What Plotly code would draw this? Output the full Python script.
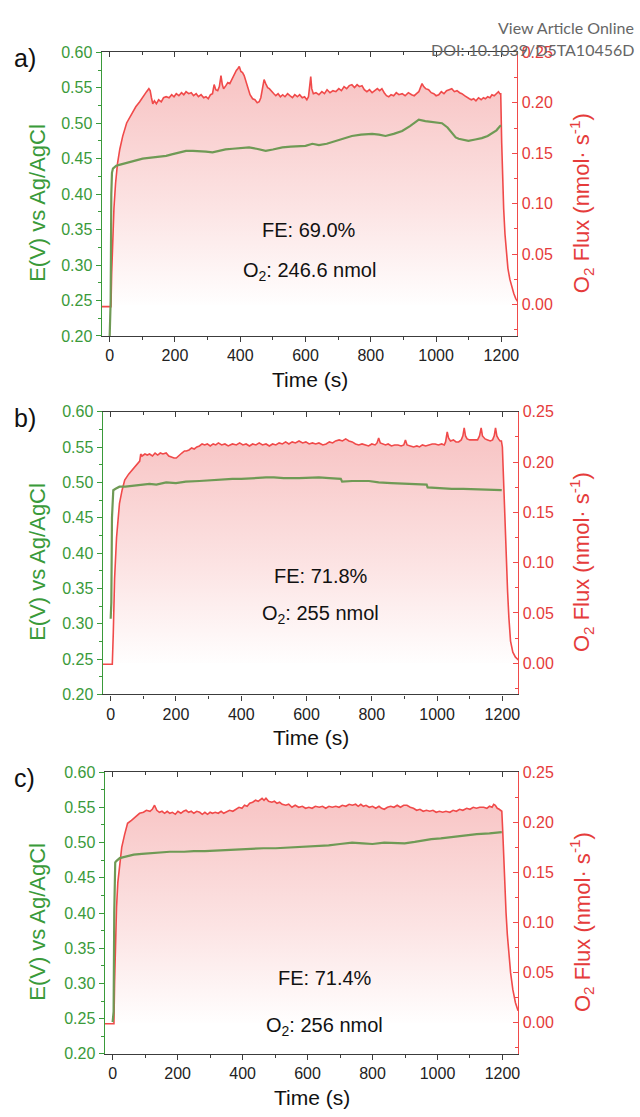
import plotly.graph_objects as go

W, H = 640, 1117

# ---------------- data ----------------
# O2 flux (nmol s^-1) vs time (s)
flux_a = [(-25, -0.002), (0, -0.002), (4, -0.002), (6, 0.03), (9, 0.07), (13, 0.095), (18, 0.12), (24, 0.14),
          (31, 0.154), (40, 0.167), (52, 0.18), (62, 0.186), (70, 0.19), (80, 0.196), (92, 0.201), (103, 0.207),
          (113, 0.211), (120, 0.214), (124, 0.212), (128, 0.205), (132, 0.199), (137, 0.202), (143, 0.199),
          (150, 0.203), (158, 0.201), (165, 0.205), (173, 0.206), (182, 0.205), (190, 0.208), (197, 0.206),
          (204, 0.209), (212, 0.207), (220, 0.21), (227, 0.208), (234, 0.211), (242, 0.209), (250, 0.21),
          (257, 0.207), (265, 0.209), (272, 0.206), (280, 0.208), (288, 0.205), (295, 0.206), (302, 0.204),
          (309, 0.208), (315, 0.209), (320, 0.218), (325, 0.213), (331, 0.212), (336, 0.216), (341, 0.227),
          (345, 0.218), (349, 0.214), (356, 0.217), (362, 0.22), (368, 0.219), (375, 0.224), (382, 0.228),
          (388, 0.232), (393, 0.234), (397, 0.236), (402, 0.231), (407, 0.23), (412, 0.227), (417, 0.221),
          (422, 0.215), (430, 0.208), (438, 0.204), (445, 0.203), (452, 0.2), (458, 0.201), (463, 0.205),
          (468, 0.216), (473, 0.223), (478, 0.219), (484, 0.215), (489, 0.214), (496, 0.211), (503, 0.209),
          (509, 0.207), (516, 0.209), (523, 0.206), (530, 0.208), (537, 0.206), (545, 0.209), (552, 0.207),
          (560, 0.205), (567, 0.208), (575, 0.206), (582, 0.208), (590, 0.205), (597, 0.206), (604, 0.203),
          (609, 0.206), (613, 0.218), (616, 0.226), (619, 0.214), (624, 0.209), (632, 0.21), (641, 0.208),
          (650, 0.211), (658, 0.209), (666, 0.213), (675, 0.21), (684, 0.212), (693, 0.211), (702, 0.214),
          (710, 0.212), (718, 0.216), (726, 0.214), (734, 0.217), (742, 0.218), (750, 0.215), (758, 0.218),
          (765, 0.216), (773, 0.217), (780, 0.213), (788, 0.211), (796, 0.213), (804, 0.21), (812, 0.212),
          (820, 0.214), (827, 0.212), (834, 0.214), (841, 0.21), (848, 0.207), (855, 0.206), (862, 0.208),
          (870, 0.207), (878, 0.21), (886, 0.208), (896, 0.209), (905, 0.207), (915, 0.21), (925, 0.208),
          (933, 0.207), (940, 0.209), (947, 0.211), (952, 0.215), (957, 0.219), (962, 0.216), (968, 0.214),
          (977, 0.213), (985, 0.21), (993, 0.209), (1000, 0.207), (1008, 0.208), (1016, 0.211), (1024, 0.209),
          (1032, 0.212), (1040, 0.213), (1048, 0.214), (1056, 0.211), (1064, 0.212), (1072, 0.21), (1079, 0.209),
          (1087, 0.207), (1095, 0.205), (1102, 0.204), (1108, 0.203), (1115, 0.204), (1122, 0.202), (1130, 0.205),
          (1138, 0.203), (1145, 0.205), (1151, 0.204), (1158, 0.206), (1165, 0.205), (1171, 0.208), (1178, 0.207),
          (1185, 0.209), (1191, 0.211), (1195, 0.209), (1198, 0.209), (1201, 0.16), (1204, 0.12), (1207, 0.095),
          (1211, 0.07), (1215, 0.05), (1220, 0.036), (1226, 0.025), (1232, 0.017), (1238, 0.011), (1244, 0.006),
          (1250, 0.003)]

flux_b = [(-25, -0.001), (0, -0.001), (5, -0.001), (8, 0.03), (12, 0.084), (18, 0.125), (22, 0.145), (27, 0.159),
          (35, 0.172), (43, 0.182), (55, 0.188), (68, 0.193), (80, 0.197), (89, 0.201), (92, 0.208), (96, 0.206),
          (105, 0.208), (112, 0.207), (119, 0.208), (128, 0.206), (136, 0.209), (144, 0.207), (152, 0.209),
          (160, 0.208), (170, 0.209), (178, 0.206), (186, 0.205), (194, 0.204), (201, 0.204), (210, 0.207),
          (218, 0.209), (226, 0.211), (232, 0.211), (240, 0.212), (248, 0.214), (256, 0.213), (264, 0.215),
          (272, 0.216), (280, 0.218), (288, 0.217), (296, 0.218), (305, 0.216), (314, 0.218), (322, 0.217),
          (330, 0.219), (340, 0.217), (350, 0.218), (360, 0.216), (373, 0.218), (385, 0.217), (395, 0.219),
          (405, 0.217), (415, 0.218), (425, 0.216), (435, 0.218), (445, 0.217), (455, 0.219), (465, 0.217),
          (476, 0.218), (486, 0.216), (496, 0.218), (506, 0.217), (516, 0.219), (526, 0.218), (536, 0.22),
          (546, 0.218), (556, 0.22), (566, 0.219), (577, 0.221), (588, 0.219), (598, 0.22), (608, 0.218),
          (618, 0.219), (628, 0.218), (638, 0.219), (650, 0.217), (660, 0.218), (670, 0.22), (680, 0.219),
          (689, 0.221), (700, 0.222), (710, 0.221), (720, 0.223), (730, 0.221), (740, 0.22), (750, 0.218),
          (760, 0.217), (770, 0.218), (780, 0.217), (790, 0.216), (800, 0.218), (810, 0.217), (816, 0.219),
          (821, 0.224), (826, 0.219), (833, 0.218), (842, 0.217), (850, 0.218), (860, 0.216), (870, 0.217),
          (880, 0.217), (890, 0.216), (898, 0.217), (903, 0.222), (908, 0.217), (918, 0.216), (928, 0.215),
          (938, 0.216), (946, 0.215), (955, 0.217), (965, 0.216), (975, 0.217), (985, 0.218), (994, 0.218),
          (1004, 0.217), (1014, 0.218), (1022, 0.217), (1026, 0.22), (1031, 0.23), (1035, 0.224), (1041, 0.221),
          (1050, 0.222), (1058, 0.22), (1066, 0.22), (1074, 0.222), (1079, 0.226), (1083, 0.234), (1087, 0.226),
          (1092, 0.223), (1100, 0.222), (1110, 0.222), (1117, 0.222), (1124, 0.222), (1130, 0.226), (1135, 0.234),
          (1139, 0.226), (1147, 0.223), (1155, 0.222), (1163, 0.221), (1170, 0.222), (1175, 0.226), (1179, 0.234),
          (1183, 0.226), (1188, 0.223), (1193, 0.221), (1197, 0.221), (1200, 0.215), (1205, 0.17), (1209, 0.13),
          (1212, 0.104), (1216, 0.071), (1220, 0.045), (1225, 0.022), (1232, 0.011), (1240, 0.006), (1250, 0.003)]

flux_c = [(-25, -0.001), (0, -0.001), (4, -0.001), (6, 0.04), (8, 0.08), (12, 0.115), (16, 0.14), (21, 0.158),
          (28, 0.175), (37, 0.188), (46, 0.199), (58, 0.202), (70, 0.205), (83, 0.209), (95, 0.21), (104, 0.212),
          (115, 0.211), (122, 0.213), (129, 0.217), (136, 0.212), (144, 0.21), (152, 0.211), (160, 0.209),
          (168, 0.211), (176, 0.209), (184, 0.21), (193, 0.208), (201, 0.211), (210, 0.209), (218, 0.211),
          (226, 0.212), (234, 0.21), (242, 0.211), (250, 0.209), (259, 0.211), (268, 0.21), (276, 0.208),
          (284, 0.21), (292, 0.208), (300, 0.21), (307, 0.209), (316, 0.21), (325, 0.209), (334, 0.211),
          (342, 0.209), (350, 0.21), (360, 0.212), (370, 0.211), (380, 0.213), (389, 0.215), (398, 0.214),
          (406, 0.217), (414, 0.216), (422, 0.219), (431, 0.22), (440, 0.222), (448, 0.221), (455, 0.223),
          (460, 0.224), (466, 0.222), (472, 0.224), (480, 0.221), (490, 0.22), (498, 0.221), (506, 0.219),
          (514, 0.22), (522, 0.218), (533, 0.217), (542, 0.218), (552, 0.215), (562, 0.217), (573, 0.215),
          (584, 0.216), (594, 0.214), (604, 0.215), (614, 0.214), (624, 0.216), (636, 0.215), (646, 0.216),
          (656, 0.214), (666, 0.216), (676, 0.215), (687, 0.216), (697, 0.215), (707, 0.217), (718, 0.216),
          (728, 0.218), (738, 0.217), (748, 0.218), (756, 0.216), (764, 0.218), (772, 0.216), (780, 0.217),
          (790, 0.215), (800, 0.216), (810, 0.214), (820, 0.216), (828, 0.214), (836, 0.213), (846, 0.215),
          (856, 0.216), (866, 0.215), (876, 0.217), (886, 0.215), (896, 0.217), (906, 0.217), (916, 0.215),
          (926, 0.214), (936, 0.212), (946, 0.213), (956, 0.211), (966, 0.212), (976, 0.211), (986, 0.212),
          (996, 0.21), (1006, 0.211), (1016, 0.21), (1026, 0.211), (1038, 0.21), (1048, 0.212), (1058, 0.211),
          (1068, 0.213), (1078, 0.212), (1090, 0.214), (1100, 0.213), (1110, 0.215), (1120, 0.214), (1130, 0.215),
          (1142, 0.215), (1152, 0.214), (1160, 0.216), (1168, 0.215), (1173, 0.218), (1178, 0.217), (1184, 0.214),
          (1190, 0.213), (1194, 0.212), (1198, 0.211), (1201, 0.19), (1204, 0.16), (1207, 0.136), (1211, 0.11),
          (1215, 0.088), (1219, 0.07), (1225, 0.05), (1232, 0.033), (1240, 0.02), (1248, 0.012)]

# Electrode potential E (V vs Ag/AgCl) vs time (s)
pot_a = [(0, 0.20), (3, 0.25), (5, 0.40), (7, 0.43), (10, 0.436), (20, 0.44), (35, 0.442), (51, 0.444),
         (70, 0.446), (85, 0.448), (101, 0.45), (120, 0.451), (140, 0.452), (155, 0.453), (173, 0.454),
         (190, 0.456), (210, 0.458), (234, 0.461), (255, 0.461), (275, 0.461), (295, 0.46), (315, 0.459),
         (335, 0.461), (355, 0.463), (377, 0.464), (400, 0.465), (427, 0.466), (450, 0.464), (478, 0.461),
         (500, 0.463), (529, 0.466), (555, 0.467), (580, 0.468), (600, 0.468), (621, 0.471), (641, 0.469),
         (665, 0.471), (693, 0.475), (718, 0.478), (742, 0.482), (770, 0.484), (804, 0.485), (825, 0.484),
         (845, 0.482), (870, 0.485), (896, 0.489), (920, 0.496), (940, 0.503), (947, 0.505), (967, 0.503),
         (990, 0.502), (1018, 0.500), (1035, 0.494), (1048, 0.486), (1060, 0.480), (1069, 0.478), (1085, 0.476),
         (1099, 0.475), (1120, 0.477), (1140, 0.479), (1158, 0.482), (1171, 0.486), (1185, 0.49), (1196, 0.496),
         (1199, 0.497)]

pot_b = [(0, 0.307), (2, 0.33), (4, 0.45), (6, 0.485), (8, 0.489), (15, 0.491), (27, 0.494), (45, 0.494),
         (68, 0.495), (90, 0.496), (119, 0.498), (140, 0.497), (170, 0.50), (200, 0.499), (230, 0.501),
         (272, 0.502), (300, 0.503), (330, 0.504), (373, 0.505), (400, 0.505), (430, 0.506), (476, 0.507),
         (500, 0.507), (530, 0.506), (577, 0.506), (610, 0.507), (638, 0.507), (670, 0.506), (699, 0.505),
         (705, 0.505), (709, 0.501), (740, 0.502), (791, 0.502), (821, 0.50), (860, 0.499), (903, 0.498),
         (940, 0.498), (964, 0.497), (968, 0.497), (971, 0.493), (1000, 0.492), (1045, 0.491), (1080, 0.491),
         (1127, 0.49), (1160, 0.49), (1198, 0.489)]

pot_c = [(0, 0.245), (3, 0.26), (5, 0.40), (6, 0.465), (8, 0.472), (12, 0.474), (22, 0.478), (40, 0.48),
         (65, 0.483), (90, 0.484), (121, 0.485), (150, 0.486), (176, 0.487), (220, 0.487), (250, 0.488),
         (284, 0.488), (320, 0.489), (360, 0.49), (392, 0.491), (430, 0.491), (465, 0.492), (502, 0.492),
         (540, 0.493), (575, 0.494), (610, 0.495), (636, 0.496), (665, 0.496), (700, 0.498), (737, 0.50),
         (770, 0.499), (800, 0.498), (836, 0.50), (870, 0.499), (899, 0.499), (930, 0.501), (955, 0.503),
         (981, 0.505), (1010, 0.506), (1043, 0.508), (1080, 0.51), (1121, 0.512), (1160, 0.513), (1193, 0.515),
         (1198, 0.515)]

panel_tags = ["a)", "b)", "c)"]
fe_values = ["69.0%", "71.8%", "71.4%"]
o2_amounts = ["246.6", "255", "256"]
time_ticks = [0, 200, 400, 600, 800, 1000, 1200]
pot_ticks = [0.20, 0.25, 0.30, 0.35, 0.40, 0.45, 0.50, 0.55, 0.60]
flux_ticks = [0.00, 0.05, 0.10, 0.15, 0.20, 0.25]

# ---------------- style ----------------
FONT = "Liberation Sans, Arial, sans-serif"
GREEN_TXT = "#3a9a3a"
GREEN_LINE = "#6f9a55"
RED_TXT = "#e53b3b"
RED_LINE = "#f04a4a"
AXIS_DARK = "#3c3c3c"

# plot-area boxes in pixels: (left, top, right, bottom)
boxes = [(102, 45, 519, 333), (103, 410, 520, 697), (105, 776, 520, 1062)]
text_rows = [(310, 225, 268), (322, 577, 616), (326, 985, 1034)]


def fx(px):
    return px / W


def fy(py):
    return 1 - py / H


fig = go.Figure()
annotations = []
layout = dict(width=W, height=H, margin=dict(l=0, r=0, t=0, b=0),
              paper_bgcolor="white", plot_bgcolor="rgba(0,0,0,0)",
              showlegend=False, font=dict(family=FONT, color="#222"))

series = [(flux_a, pot_a), (flux_b, pot_b), (flux_c, pot_c)]

for i, ((flux, pot), box) in enumerate(zip(series, boxes)):
    left, top, right, bottom = box
    xb = "x" if i == 0 else f"x{i + 1}"
    xt = f"x{i + 4}"
    yr = "y" if i == 0 else f"y{2 * i + 1}"
    yl = f"y{2 * i + 2}"
    xdom = [fx(left), fx(right)]
    ydom = [fy(bottom), fy(top)]

    ft, fv = zip(*flux)
    pt, pv = zip(*pot)

    # O2 flux with shaded area underneath
    fig.add_trace(go.Scatter(
        x=ft, y=fv, xaxis=xb, yaxis=yr, mode="lines",
        line=dict(color=RED_LINE, width=1.6), fill="tozeroy",
        fillgradient=dict(type="vertical", start=0.0, stop=0.215,
                          colorscale=[[0, "rgba(255,255,255,1)"], [0.45, "rgba(252,228,228,1)"],
                                      [1, "rgba(248,199,199,1)"]]),
        hoverinfo="skip"))
    # electrode potential
    fig.add_trace(go.Scatter(
        x=pt, y=pv, xaxis=xb, yaxis=yl, mode="lines",
        line=dict(color=GREEN_LINE, width=2.2), hoverinfo="skip"))
    # placeholder so the top tick axis is drawn
    fig.add_trace(go.Scatter(x=[None], y=[None], xaxis=xt, yaxis=yr, mode="lines",
                             hoverinfo="skip"))

    xkey = "xaxis" if i == 0 else f"xaxis{i + 1}"
    layout[xkey] = dict(
        domain=xdom, anchor=yr, range=[-24.5, 1249], type="linear",
        tickmode="array", tickvals=time_ticks, ticktext=[str(v) for v in time_ticks],
        ticks="outside", ticklen=5, tickwidth=1.2, tickcolor=AXIS_DARK,
        minor=dict(dtick=100, tick0=0, ticks="outside", ticklen=3, tickwidth=1, tickcolor=AXIS_DARK),
        showline=True, linecolor=AXIS_DARK, linewidth=1.3, showgrid=False, zeroline=False,
        tickfont=dict(family=FONT, size=16, color="#222"))
    layout[f"xaxis{i + 4}"] = dict(
        domain=xdom, anchor=yr, overlaying=xb, side="top", range=[-24.5, 1249], type="linear",
        tickmode="array", tickvals=time_ticks, showticklabels=False,
        ticks="inside", ticklen=5, tickwidth=1.2, tickcolor=AXIS_DARK,
        minor=dict(dtick=100, tick0=0, ticks="inside", ticklen=3, tickwidth=1, tickcolor=AXIS_DARK),
        showline=True, linecolor=AXIS_DARK, linewidth=1.3, showgrid=False, zeroline=False)
    yrkey = "yaxis" if i == 0 else f"yaxis{2 * i + 1}"
    layout[yrkey] = dict(
        domain=ydom, anchor=xb, side="right", range=[-0.031, 0.25], type="linear",
        tickmode="array", tickvals=flux_ticks, ticktext=[f"{v:.2f}" for v in flux_ticks],
        ticks="inside", ticklen=5, tickwidth=1.2, tickcolor=RED_LINE,
        minor=dict(dtick=0.025, tick0=0, ticks="inside", ticklen=3, tickwidth=1, tickcolor=RED_LINE),
        showline=True, linecolor=RED_LINE, linewidth=1.3, showgrid=False, zeroline=False,
        tickfont=dict(family=FONT, size=16, color=RED_TXT))
    layout[f"yaxis{2 * i + 2}"] = dict(
        domain=ydom, anchor=xb, overlaying=yr, side="left", range=[0.20, 0.60], type="linear",
        tickmode="array", tickvals=pot_ticks, ticktext=[f"{v:.2f}" for v in pot_ticks],
        ticks="outside", ticklen=5, tickwidth=1.2, tickcolor=GREEN_TXT,
        minor=dict(dtick=0.025, tick0=0.2, ticks="outside", ticklen=3, tickwidth=1, tickcolor=GREEN_TXT),
        showline=True, linecolor=GREEN_TXT, linewidth=1.3, showgrid=False, zeroline=False,
        tickfont=dict(family=FONT, size=16, color=GREEN_TXT))

    title_y = (top + bottom) / 2 + 9
    annotations += [
        dict(text=panel_tags[i], x=fx(12), y=fy(top + 6), xref="paper", yref="paper",
             xanchor="left", yanchor="middle", showarrow=False,
             font=dict(family=FONT, size=25, color="#111")),
        dict(text="E(V) vs Ag/AgCl", x=fx(38), y=fy(title_y), xref="paper", yref="paper",
             textangle=-90, xanchor="center", yanchor="middle", showarrow=False,
             font=dict(family=FONT, size=22, color=GREEN_TXT)),
        dict(text="O<sub>2</sub> Flux (nmol· s<sup>-1</sup>)", x=fx(584), y=fy(title_y), xref="paper",
             yref="paper", textangle=-90, xanchor="center", yanchor="middle", showarrow=False,
             font=dict(family=FONT, size=22, color=RED_TXT)),
        dict(text="Time (s)", x=fx((left + right) / 2), y=fy(bottom + 44), xref="paper", yref="paper",
             xanchor="center", yanchor="middle", showarrow=False,
             font=dict(family=FONT, size=21, color="#111")),
        dict(text=f"FE: {fe_values[i]}", x=fx(text_rows[i][0]), y=fy(text_rows[i][1]), xref="paper",
             yref="paper", xanchor="center", yanchor="middle", showarrow=False,
             font=dict(family=FONT, size=20, color="#111")),
        dict(text=f"O<sub>2</sub>: {o2_amounts[i]} nmol", x=fx(text_rows[i][0]), y=fy(text_rows[i][2]),
             xref="paper", yref="paper", xanchor="center", yanchor="middle", showarrow=False,
             font=dict(family=FONT, size=20, color="#111")),
    ]

annotations += [
    dict(text="View Article Online", x=fx(638), y=fy(20), xref="paper", yref="paper",
         xanchor="right", yanchor="middle", showarrow=False,
         font=dict(family="Lato, sans-serif", size=16, color="#666")),
    dict(text="DOI: 10.1039/D5TA10456D", x=fx(638), y=fy(42), xref="paper", yref="paper",
         xanchor="right", yanchor="middle", showarrow=False,
         font=dict(family="Lato, sans-serif", size=16, color="#666")),
]
layout["annotations"] = annotations
fig.update_layout(**layout)
fig.write_html("out.html")
